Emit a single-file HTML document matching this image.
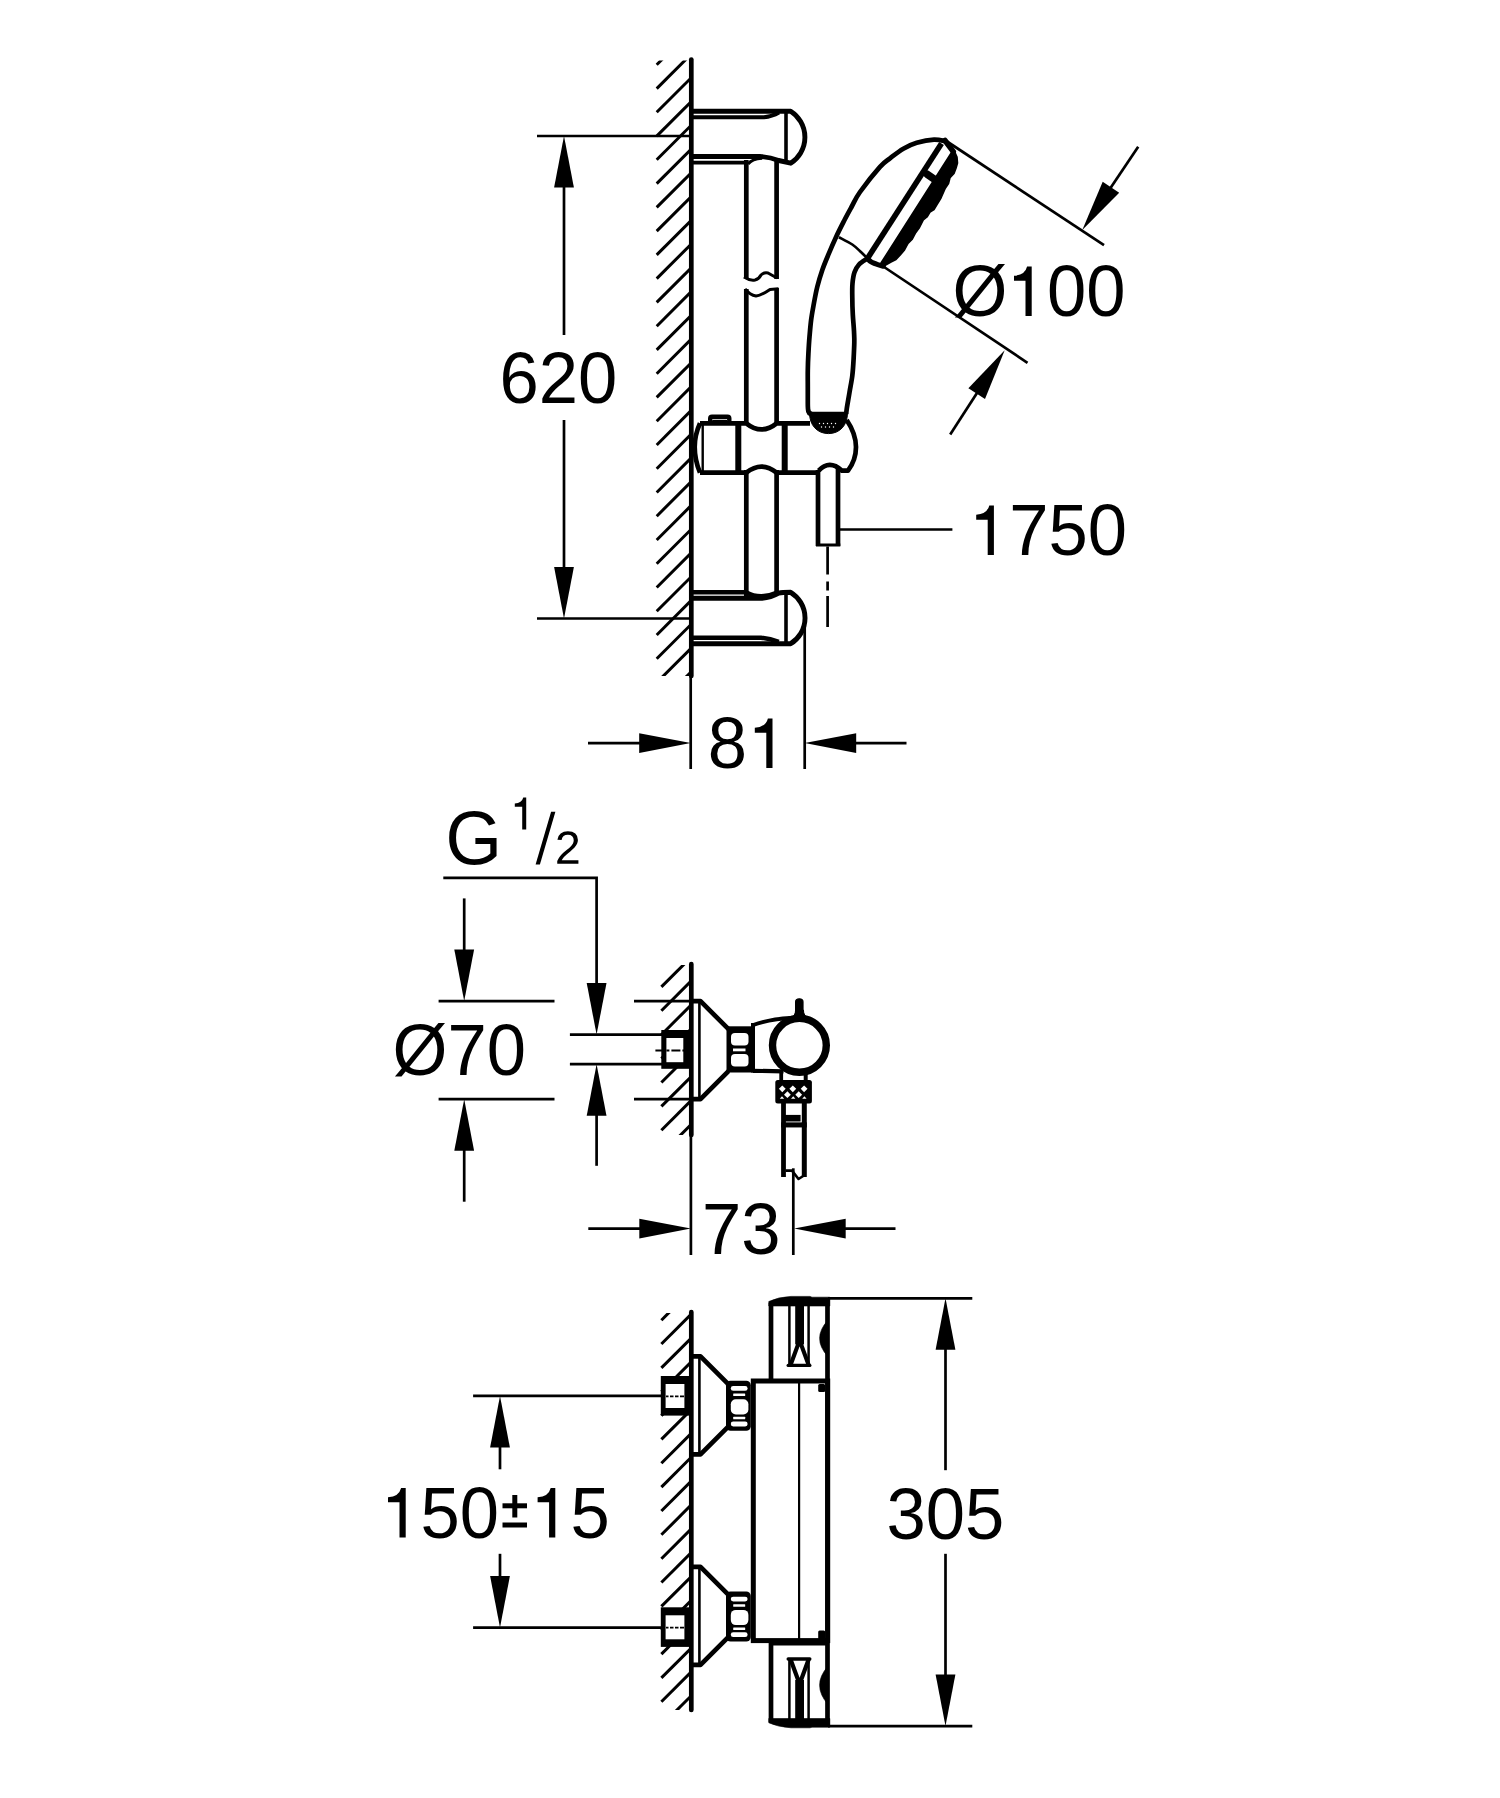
<!DOCTYPE html>
<html><head><meta charset="utf-8"><title>Dimension drawing</title>
<style>
html,body{margin:0;padding:0;background:#fff;}
svg{display:block;}
text{font-family:"Liberation Sans",sans-serif;fill:#000;stroke:none;}
</style></head>
<body>
<svg width="1500" height="1798" viewBox="0 0 1500 1798" stroke="#000" fill="none">
<rect x="0" y="0" width="1500" height="1798" fill="#fff" stroke="none"/>
<clipPath id="h1"><rect x="655.3" y="60.5" width="36.0" height="615.5"/></clipPath>
<g clip-path="url(#h1)" stroke-width="3.0" stroke-linecap="butt">
<line x1="656.7" y1="64.8" x2="691.3" y2="30.2"/>
<line x1="656.7" y1="88.6" x2="691.3" y2="54.0"/>
<line x1="656.7" y1="112.3" x2="691.3" y2="77.7"/>
<line x1="656.7" y1="136.1" x2="691.3" y2="101.5"/>
<line x1="656.7" y1="159.8" x2="691.3" y2="125.2"/>
<line x1="656.7" y1="183.6" x2="691.3" y2="149.0"/>
<line x1="656.7" y1="207.4" x2="691.3" y2="172.8"/>
<line x1="656.7" y1="231.1" x2="691.3" y2="196.5"/>
<line x1="656.7" y1="254.9" x2="691.3" y2="220.3"/>
<line x1="656.7" y1="278.6" x2="691.3" y2="244.0"/>
<line x1="656.7" y1="302.4" x2="691.3" y2="267.8"/>
<line x1="656.7" y1="326.2" x2="691.3" y2="291.6"/>
<line x1="656.7" y1="349.9" x2="691.3" y2="315.3"/>
<line x1="656.7" y1="373.7" x2="691.3" y2="339.1"/>
<line x1="656.7" y1="397.4" x2="691.3" y2="362.8"/>
<line x1="656.7" y1="421.2" x2="691.3" y2="386.6"/>
<line x1="656.7" y1="445.0" x2="691.3" y2="410.4"/>
<line x1="656.7" y1="468.7" x2="691.3" y2="434.1"/>
<line x1="656.7" y1="492.5" x2="691.3" y2="457.9"/>
<line x1="656.7" y1="516.2" x2="691.3" y2="481.6"/>
<line x1="656.7" y1="540.0" x2="691.3" y2="505.4"/>
<line x1="656.7" y1="563.8" x2="691.3" y2="529.2"/>
<line x1="656.7" y1="587.5" x2="691.3" y2="552.9"/>
<line x1="656.7" y1="611.3" x2="691.3" y2="576.7"/>
<line x1="656.7" y1="635.0" x2="691.3" y2="600.4"/>
<line x1="656.7" y1="658.8" x2="691.3" y2="624.2"/>
<line x1="656.7" y1="682.6" x2="691.3" y2="648.0"/>
<line x1="656.7" y1="706.3" x2="691.3" y2="671.7"/>
</g>
<line x1="691.3" y1="59.5" x2="691.3" y2="676.0" stroke-width="4.7" stroke-linecap="round" />
<line x1="690.7" y1="676.0" x2="690.7" y2="769.0" stroke-width="2.7" stroke-linecap="butt" />
<line x1="537.0" y1="136.0" x2="689.0" y2="136.0" stroke-width="2.7" stroke-linecap="butt" />
<line x1="537.0" y1="618.5" x2="689.0" y2="618.5" stroke-width="2.7" stroke-linecap="butt" />
<line x1="564.0" y1="186.0" x2="564.0" y2="335.0" stroke-width="2.7" stroke-linecap="butt" />
<line x1="564.0" y1="420.0" x2="564.0" y2="569.0" stroke-width="2.7" stroke-linecap="butt" />
<polygon points="564.0,136.0 573.9,187.5 554.1,187.5" fill="#000" stroke="none"/>
<polygon points="564.0,618.5 554.1,567.0 573.9,567.0" fill="#000" stroke="none"/>
<text transform="translate(499.50,402.70) scale(1,1.02)" font-size="70.6">620</text>
<path d="M692,111.3 L790.7,111.3 A30.8,30.8 0 0 1 790.7,163.2 L778.7,160.5 Q770,157 760,156.5 L692,156.5" stroke-width="4.9" fill="none" stroke-linecap="butt" stroke-linejoin="round" />
<line x1="786.0" y1="113.0" x2="786.0" y2="161.0" stroke-width="3.6" stroke-linecap="butt" />
<path d="M692,117.3 L764,117.3 Q772,116.5 779,112.5" stroke-width="4.0" fill="none" stroke-linecap="butt" stroke-linejoin="round" />
<path d="M692,162.7 L746,162.7" stroke-width="3.8" fill="none" stroke-linecap="butt" stroke-linejoin="round" />
<path d="M748,164 Q752,158.8 762,158.2" stroke-width="3" fill="none" stroke-linecap="butt" stroke-linejoin="round" />
<path d="M692,643.7 L790.7,643.7 A30.2,30.2 0 0 0 790.7,592.3 Q782,592.3 778.7,593.2 Q771,597.5 762,598.3 L692,598.3" stroke-width="4.9" fill="none" stroke-linecap="butt" stroke-linejoin="round" />
<line x1="786.0" y1="593.0" x2="786.0" y2="642.0" stroke-width="3.6" stroke-linecap="butt" />
<path d="M692,637.7 L761,637.7 Q770,638.5 778.7,642" stroke-width="4.6" fill="none" stroke-linecap="butt" stroke-linejoin="round" />
<path d="M692,592.3 L748,592.3" stroke-width="4.6" fill="none" stroke-linecap="butt" stroke-linejoin="round" />
<line x1="804.7" y1="625.0" x2="804.7" y2="769.0" stroke-width="2.7" stroke-linecap="butt" />
<line x1="746.3" y1="160.0" x2="746.3" y2="278.0" stroke-width="4.7" stroke-linecap="butt" />
<line x1="776.6" y1="158.0" x2="776.6" y2="279.0" stroke-width="4.7" stroke-linecap="butt" />
<path d="M744,277 Q750,281 755,280 Q759,279 761,275 Q764,272 768,273 L777,278" stroke-width="3" fill="none" stroke-linecap="butt" stroke-linejoin="round" />
<path d="M745,289 Q750,295 756,296 Q762,295 770,289.5 L778.5,288.7" stroke-width="3" fill="none" stroke-linecap="butt" stroke-linejoin="round" />
<line x1="746.3" y1="289.0" x2="746.3" y2="425.0" stroke-width="4.7" stroke-linecap="butt" />
<line x1="776.6" y1="288.0" x2="776.6" y2="425.0" stroke-width="4.7" stroke-linecap="butt" />
<line x1="746.3" y1="470.0" x2="746.3" y2="596.0" stroke-width="4.7" stroke-linecap="butt" />
<line x1="776.6" y1="470.0" x2="776.6" y2="594.0" stroke-width="4.7" stroke-linecap="butt" />
<path d="M746.3,592.5 Q760,600 776.6,592.8" stroke-width="4.7" fill="none" stroke-linecap="butt" stroke-linejoin="round" />
<path d="M700,423.3 L746.3,423.3 Q761.5,435.5 776.6,423.3 L810,423.3" stroke-width="4.7" fill="none" stroke-linecap="butt" stroke-linejoin="round" />
<path d="M700,423.3 Q694.7,435 694.7,447 Q694.7,460 700,472.7" stroke-width="4.7" fill="none" stroke-linecap="butt" stroke-linejoin="round" />
<path d="M700,472.7 L746.3,472.7 Q761.5,460.5 776.6,472.7 L818,472.7" stroke-width="4.7" fill="none" stroke-linecap="butt" stroke-linejoin="round" />
<line x1="702.7" y1="424.0" x2="702.7" y2="472.0" stroke-width="2.4" stroke-linecap="butt" />
<line x1="738.3" y1="423.0" x2="738.3" y2="473.0" stroke-width="6" stroke-linecap="butt" />
<line x1="784.7" y1="423.0" x2="784.7" y2="473.0" stroke-width="6" stroke-linecap="butt" />
<path d="M710.2,423 L710.2,418.5 Q710.2,416.8 712,416.8 L727.5,416.8 Q729.3,416.8 729.3,418.5 L729.3,423" stroke-width="4.4" fill="none" stroke-linecap="butt" stroke-linejoin="round" />
<path d="M713,420.5 L726.5,420.5 L726.5,423 Q720,425.5 713,423 Z" stroke-width="1.6" fill="none" stroke-linecap="butt" stroke-linejoin="round" />
<path d="M846.7,420 Q856,434 856,447 Q856,460 848,470.7 L842,470.7 Q829.3,459 818.7,470.7" stroke-width="4.7" fill="none" stroke-linecap="butt" stroke-linejoin="round" />
<line x1="818.0" y1="470.0" x2="818.0" y2="546.0" stroke-width="4.7" stroke-linecap="butt" />
<line x1="838.0" y1="468.0" x2="838.0" y2="546.0" stroke-width="4.7" stroke-linecap="butt" />
<line x1="816.0" y1="545.0" x2="840.3" y2="545.0" stroke-width="3" stroke-linecap="butt" />
<line x1="838.0" y1="529.5" x2="952.4" y2="529.5" stroke-width="2.7" stroke-linecap="butt" />
<line x1="827.6" y1="546.5" x2="827.6" y2="627" stroke-width="2.7" stroke-dasharray="28 7 9 5.5 31"/>
<path d="M946.0,141.3 C944.0,141.0 938.9,139.4 934.0,139.6 C929.1,139.8 921.8,141.2 916.7,142.7 C911.6,144.2 907.8,146.1 903.3,148.7 C898.8,151.3 893.9,155.3 890.0,158.3 C886.1,161.3 885.0,161.3 880.0,166.9 C875.0,172.5 864.8,185.3 860.0,192.0 C855.2,198.7 854.1,202.3 851.5,207.0 C848.9,211.7 847.0,215.1 844.5,220.0 C842.0,224.9 838.8,231.1 836.2,236.7 C833.6,242.3 831.2,247.8 828.9,253.4 C826.6,258.9 824.2,264.4 822.3,270.0 C820.4,275.6 818.7,281.1 817.3,286.7 C815.9,292.3 814.9,297.8 813.9,303.4 C812.9,309.0 811.8,314.5 811.1,320.1 C810.4,325.7 810.0,331.2 809.5,336.8 C809.0,342.4 808.7,347.9 808.4,353.5 C808.1,359.1 807.9,364.6 807.8,370.2 C807.7,375.8 807.8,381.3 807.8,386.9 C807.8,392.4 807.8,399.8 807.8,403.5 C807.8,407.2 808.0,408.1 808.0,409.0 Q808,414 812.5,414 L846.7,414" stroke-width="4.7" fill="none" stroke-linecap="butt" stroke-linejoin="round" />
<path d="M866.8,258.9 C865.5,259.8 861.0,262.3 859.0,264.5 C857.0,266.7 855.6,269.2 854.5,272.3 C853.4,275.4 852.9,279.1 852.5,283.4 C852.1,287.7 852.2,292.7 852.3,297.9 C852.3,303.1 852.5,308.9 852.8,314.5 C853.1,320.1 853.8,326.6 854.0,331.2 C854.2,335.8 854.4,337.8 854.3,342.4 C854.2,347.0 853.9,353.4 853.6,359.0 C853.3,364.6 853.0,370.1 852.3,375.7 C851.6,381.3 850.4,386.8 849.5,392.4 C848.6,398.0 847.2,405.5 846.7,409.1 C846.2,412.7 846.3,413.2 846.2,414.0" stroke-width="4.7" fill="none" stroke-linecap="butt" stroke-linejoin="round" />
<path d="M809.5,413 L847.5,413 C847.5,425 840,433.6 828.5,433.6 C817,433.6 809.5,425 809.5,413 Z" stroke-width="1" fill="#000" stroke-linecap="butt" stroke-linejoin="round" />
<circle cx="819.5" cy="423.5" r="0.7" fill="#fff" stroke="none"/>
<circle cx="823.5" cy="423.5" r="0.7" fill="#fff" stroke="none"/>
<circle cx="827.5" cy="423.5" r="0.7" fill="#fff" stroke="none"/>
<circle cx="831.5" cy="423.5" r="0.7" fill="#fff" stroke="none"/>
<circle cx="835.5" cy="423.5" r="0.7" fill="#fff" stroke="none"/>
<circle cx="821.5" cy="427" r="0.7" fill="#fff" stroke="none"/>
<circle cx="825.5" cy="427" r="0.7" fill="#fff" stroke="none"/>
<circle cx="829.5" cy="427" r="0.7" fill="#fff" stroke="none"/>
<circle cx="833.5" cy="427" r="0.7" fill="#fff" stroke="none"/>
<line x1="941.5" y1="143.5" x2="867.3" y2="258.7" stroke-width="5.6" stroke-linecap="butt" />
<path d="M945,140.5 L953.3,151.7" stroke-width="5.5" fill="none" stroke-linecap="round" stroke-linejoin="round" />
<path d="M867.3,258.7 Q871,263 877,264.3 L883.3,266.3" stroke-width="5" fill="none" stroke-linecap="round" stroke-linejoin="round" />
<path d="M952,151.7 L881,263 L883,266.5 L891,262 L896,259.5 L900,255.3 L904.5,250 L908,243.3 L912,239.5 L915.3,233.3 L919.5,227.5 L923.3,220 L927,217 L930,212 L934,209.5 L936.7,205 L941,198 L945.3,188.3 L948.5,183.5 L950,177.7 L954,173.5 L956,168.3 L957.5,163 L957,157 L955,152.5 Z" stroke-width="1.6" fill="#000" stroke-linecap="butt" stroke-linejoin="round" />
<path d="M927.3,174.3 L937.5,181.3" stroke-width="7.5" fill="none" stroke-linecap="round" stroke-linejoin="round" />
<path d="M838.9,237.2 C841.1,238.4 848.6,242.0 852.3,244.5 C856.0,247.0 858.6,249.9 861.2,252.3 C863.8,254.7 866.8,257.8 867.9,258.9" stroke-width="2.7" fill="none" stroke-linecap="butt" stroke-linejoin="round" />
<line x1="947.0" y1="141.5" x2="1104.0" y2="245.2" stroke-width="2.7" stroke-linecap="butt" />
<line x1="883.3" y1="266.5" x2="1027.5" y2="362.8" stroke-width="2.7" stroke-linecap="butt" />
<line x1="1138.2" y1="146.7" x2="1110.0" y2="188.8" stroke-width="2.7" stroke-linecap="butt" />
<polygon points="1082.3,230.1 1102.7,181.8 1119.2,192.8" fill="#000" stroke="none"/>
<line x1="950.2" y1="434.5" x2="977.0" y2="393.0" stroke-width="2.7" stroke-linecap="butt" />
<polygon points="1004.7,350.3 985.0,398.9 968.4,388.2" fill="#000" stroke="none"/>
<text transform="translate(952.45,316.00) scale(1,1.02)" font-size="70.6">Ø</text>
<path d="M1027.10,266.40 L1031.70,266.40 L1031.70,316.00 L1025.50,316.00 L1025.50,280.80 L1014.00,280.80 L1014.00,275.80 Q1025.00,275.00 1027.10,266.40 Z" fill="#000" stroke="none"/>
<text transform="translate(1047.00,316.00) scale(1,1.02)" font-size="70.6">00</text>
<path d="M989.30,505.40 L993.90,505.40 L993.90,555.00 L987.70,555.00 L987.70,519.80 L976.20,519.80 L976.20,514.80 Q987.20,514.00 989.30,505.40 Z" fill="#000" stroke="none"/>
<text transform="translate(1009.30,555.00) scale(1,1.02)" font-size="70.6">750</text>
<line x1="588.0" y1="743.1" x2="640.0" y2="743.1" stroke-width="2.7" stroke-linecap="butt" />
<polygon points="690.7,743.1 639.2,753.0 639.2,733.2" fill="#000" stroke="none"/>
<line x1="906.5" y1="743.1" x2="855.0" y2="743.1" stroke-width="2.7" stroke-linecap="butt" />
<polygon points="804.7,743.1 856.2,733.2 856.2,753.0" fill="#000" stroke="none"/>
<text transform="translate(707.70,768.00) scale(1,1.02)" font-size="70.6">8</text>
<path d="M767.90,718.40 L772.50,718.40 L772.50,768.00 L766.30,768.00 L766.30,732.80 L754.80,732.80 L754.80,727.80 Q765.80,727.00 767.90,718.40 Z" fill="#000" stroke="none"/>
<clipPath id="h2"><rect x="660" y="965" width="31.299999999999955" height="170"/></clipPath>
<g clip-path="url(#h2)" stroke-width="3.0" stroke-linecap="butt">
<line x1="661.4" y1="963.0" x2="691.3" y2="933.1"/>
<line x1="661.4" y1="986.9" x2="691.3" y2="957.0"/>
<line x1="661.4" y1="1010.8" x2="691.3" y2="980.9"/>
<line x1="661.4" y1="1034.7" x2="691.3" y2="1004.8"/>
<line x1="661.4" y1="1058.6" x2="691.3" y2="1028.7"/>
<line x1="661.4" y1="1082.5" x2="691.3" y2="1052.6"/>
<line x1="661.4" y1="1106.4" x2="691.3" y2="1076.5"/>
<line x1="661.4" y1="1130.3" x2="691.3" y2="1100.4"/>
<line x1="661.4" y1="1154.2" x2="691.3" y2="1124.3"/>
</g>
<line x1="691.3" y1="964.0" x2="691.3" y2="1135.0" stroke-width="4.7" stroke-linecap="round" />
<line x1="690.9" y1="1135.0" x2="690.9" y2="1255.0" stroke-width="2.7" stroke-linecap="butt" />
<text transform="translate(445.50,864.30) scale(1,1.05)" font-size="72.6">G</text>
<path d="M523.25,797.41 L526.22,797.41 L526.22,829.40 L522.22,829.40 L522.22,806.70 L514.80,806.70 L514.80,803.47 Q521.89,802.96 523.25,797.41 Z" fill="#000" stroke="none"/>
<polygon points="535.6,864.6 539.9,864.6 555.4,811.8 551.1,811.8" fill="#000" stroke="none"/>
<path d="M557.24 863.80V860.92Q558.40 858.26 560.07 856.23Q561.73 854.20 563.57 852.55Q565.41 850.90 567.22 849.50Q569.02 848.09 570.48 846.68Q571.93 845.27 572.83 843.73Q573.72 842.18 573.72 840.23Q573.72 837.60 572.18 836.15Q570.63 834.69 567.89 834.69Q565.28 834.69 563.58 836.11Q561.89 837.53 561.60 840.10L557.42 839.71Q557.87 835.87 560.68 833.60Q563.48 831.33 567.89 831.33Q572.72 831.33 575.32 833.61Q577.92 835.90 577.92 840.10Q577.92 841.96 577.07 843.80Q576.22 845.64 574.54 847.48Q572.86 849.31 568.11 853.17Q565.50 855.31 563.96 857.02Q562.42 858.74 561.73 860.33H578.42V863.80Z" fill="#000" stroke="none"/>
<path d="M443.3,877.9 L596.6,877.9 L596.6,985" stroke-width="2.7" fill="none" stroke-linecap="butt" stroke-linejoin="miter" />
<polygon points="596.6,1034.5 586.7,983.0 606.5,983.0" fill="#000" stroke="none"/>
<line x1="569.9" y1="1034.7" x2="662.0" y2="1034.7" stroke-width="2.7" stroke-linecap="butt" />
<line x1="569.9" y1="1064.2" x2="662.0" y2="1064.2" stroke-width="2.7" stroke-linecap="butt" />
<polygon points="596.6,1064.2 606.5,1115.7 586.7,1115.7" fill="#000" stroke="none"/>
<line x1="596.6" y1="1114.0" x2="596.6" y2="1165.8" stroke-width="2.7" stroke-linecap="butt" />
<line x1="438.6" y1="1001.1" x2="554.5" y2="1001.1" stroke-width="2.7" stroke-linecap="butt" />
<line x1="438.6" y1="1099.2" x2="554.5" y2="1099.2" stroke-width="2.7" stroke-linecap="butt" />
<line x1="634.0" y1="1001.1" x2="693.0" y2="1001.1" stroke-width="2.7" stroke-linecap="butt" />
<line x1="634.0" y1="1099.2" x2="693.0" y2="1099.2" stroke-width="2.7" stroke-linecap="butt" />
<line x1="464.2" y1="898.4" x2="464.2" y2="951.0" stroke-width="2.7" stroke-linecap="butt" />
<polygon points="464.2,1001.1 454.3,949.6 474.1,949.6" fill="#000" stroke="none"/>
<line x1="464.2" y1="1201.7" x2="464.2" y2="1149.0" stroke-width="2.7" stroke-linecap="butt" />
<polygon points="464.2,1099.2 474.1,1150.7 454.3,1150.7" fill="#000" stroke="none"/>
<text transform="translate(392.55,1075.00) scale(1,1.02)" font-size="70.6">Ø70</text>
<rect x="661.3" y="1030" width="28.5" height="38.8" fill="#000" stroke="none"/>
<rect x="666.4" y="1038" width="16.9" height="24.2" fill="#fff" stroke="none"/>
<line x1="655.4" y1="1050.5" x2="688" y2="1050.5" stroke-width="1.8" stroke-dasharray="9 2 3 2"/>
<path d="M693,1001.1500000000001 L700.5,1001.1500000000001 L728.5,1029.15 M693,1099.15 L700.5,1099.15 L728.5,1071.15" stroke-width="4.7" fill="none" stroke-linecap="butt" stroke-linejoin="round" />
<line x1="699.4" y1="1001.2" x2="699.4" y2="1099.2" stroke-width="2.6" stroke-linecap="butt" />
<rect x="726.5" y="1026.3" width="28" height="46.2" fill="#000" stroke="none"/>
<rect x="731" y="1033" width="17.5" height="12.5" rx="4" fill="#fff" stroke="none"/>
<rect x="731" y="1054" width="17.5" height="12.5" rx="4" fill="#fff" stroke="none"/>
<rect x="733" y="1048.5" width="12.5" height="2.8" fill="#fff" stroke="none"/>
<path d="M752.5,1025.3 Q770,1018.6 794,1017.7" stroke-width="3.9" fill="none" stroke-linecap="butt" stroke-linejoin="round" />
<path d="M753,1070.8 L783.5,1071.3" stroke-width="4.2" fill="none" stroke-linecap="butt" stroke-linejoin="round" />
<line x1="753.0" y1="1023.0" x2="753.0" y2="1072.5" stroke-width="4" stroke-linecap="butt" />
<circle cx="799.4" cy="1045.3" r="26.9" stroke-width="7.4" fill="#fff"/>
<path d="M795.6,1019 L795.6,1001.8 Q795.6,998.8 799.3,998.8 Q803,998.8 803,1001.8 L803,1019 Z" stroke-width="1.2" fill="#000" stroke-linecap="butt" stroke-linejoin="round" />
<path d="M790.5,1018 Q795.5,1016 795.6,1010 L803.4,1010 Q803.5,1016 808.5,1018 Z" stroke-width="1" fill="#000" stroke-linecap="butt" stroke-linejoin="round" />
<line x1="781.2" y1="1072.0" x2="781.2" y2="1081.0" stroke-width="3.8" stroke-linecap="butt" />
<line x1="805.7" y1="1072.0" x2="805.7" y2="1081.0" stroke-width="4" stroke-linecap="butt" />
<rect x="775.3" y="1079.9" width="36.6" height="23.7" rx="2.5" fill="#000" stroke="none"/>
<path d="M782.3,1085.4 L785.7,1088.8 L782.3,1092.2 L778.9,1088.8 Z" fill="#fff" stroke="none"/>
<path d="M792.8,1085.4 L796.2,1088.8 L792.8,1092.2 L789.4,1088.8 Z" fill="#fff" stroke="none"/>
<path d="M804.1,1085.4 L807.5,1088.8 L804.1,1092.2 L800.7,1088.8 Z" fill="#fff" stroke="none"/>
<path d="M787.4,1091.3 L790.8,1094.7 L787.4,1098.1 L784.0,1094.7 Z" fill="#fff" stroke="none"/>
<path d="M798.7,1091.3 L802.1,1094.7 L798.7,1098.1 L795.3,1094.7 Z" fill="#fff" stroke="none"/>
<path d="M782.0,1096.3 L784.2,1098.8 L779.8,1098.8 Z" fill="#fff" stroke="none"/>
<path d="M793.2,1096.3 L795.4,1098.8 L791.0,1098.8 Z" fill="#fff" stroke="none"/>
<path d="M804.4,1096.3 L806.6,1098.8 L802.2,1098.8 Z" fill="#fff" stroke="none"/>
<line x1="783.5" y1="1103.0" x2="783.5" y2="1177.0" stroke-width="4.8" stroke-linecap="butt" />
<line x1="804.3" y1="1103.0" x2="804.3" y2="1177.0" stroke-width="5" stroke-linecap="butt" />
<rect x="784.7" y="1114.9" width="15.9" height="6.6" fill="#000" stroke="none"/>
<line x1="781.2" y1="1124.9" x2="806.8" y2="1124.9" stroke-width="5.1" stroke-linecap="butt" />
<path d="M785.5,1170.6 L792,1170.6 L798.5,1179 L804,1175.5" stroke-width="2.6" fill="none" stroke-linecap="butt" stroke-linejoin="round" />
<line x1="793.3" y1="1168.3" x2="793.3" y2="1255.0" stroke-width="2.7" stroke-linecap="butt" />
<line x1="588.3" y1="1228.6" x2="641.0" y2="1228.6" stroke-width="2.7" stroke-linecap="butt" />
<polygon points="690.8,1228.6 639.3,1238.5 639.3,1218.7" fill="#000" stroke="none"/>
<line x1="895.5" y1="1228.6" x2="845.0" y2="1228.6" stroke-width="2.7" stroke-linecap="butt" />
<polygon points="794.2,1228.6 845.7,1218.7 845.7,1238.5" fill="#000" stroke="none"/>
<text transform="translate(701.90,1253.50) scale(1,1.02)" font-size="70.6">73</text>
<clipPath id="h3"><rect x="660" y="1313" width="31.299999999999955" height="397"/></clipPath>
<g clip-path="url(#h3)" stroke-width="3.0" stroke-linecap="butt">
<line x1="661.4" y1="1320.2" x2="691.3" y2="1290.3"/>
<line x1="661.4" y1="1344.0" x2="691.3" y2="1314.1"/>
<line x1="661.4" y1="1367.9" x2="691.3" y2="1338.0"/>
<line x1="661.4" y1="1391.7" x2="691.3" y2="1361.8"/>
<line x1="661.4" y1="1415.6" x2="691.3" y2="1385.7"/>
<line x1="661.4" y1="1439.4" x2="691.3" y2="1409.5"/>
<line x1="661.4" y1="1463.3" x2="691.3" y2="1433.4"/>
<line x1="661.4" y1="1487.1" x2="691.3" y2="1457.2"/>
<line x1="661.4" y1="1511.0" x2="691.3" y2="1481.1"/>
<line x1="661.4" y1="1534.8" x2="691.3" y2="1504.9"/>
<line x1="661.4" y1="1558.7" x2="691.3" y2="1528.8"/>
<line x1="661.4" y1="1582.5" x2="691.3" y2="1552.6"/>
<line x1="661.4" y1="1606.4" x2="691.3" y2="1576.5"/>
<line x1="661.4" y1="1630.2" x2="691.3" y2="1600.3"/>
<line x1="661.4" y1="1654.1" x2="691.3" y2="1624.2"/>
<line x1="661.4" y1="1677.9" x2="691.3" y2="1648.0"/>
<line x1="661.4" y1="1701.8" x2="691.3" y2="1671.9"/>
<line x1="661.4" y1="1725.6" x2="691.3" y2="1695.7"/>
</g>
<line x1="691.3" y1="1312.0" x2="691.3" y2="1710.0" stroke-width="4.7" stroke-linecap="round" />
<line x1="473.1" y1="1395.9" x2="662.0" y2="1395.9" stroke-width="2.7" stroke-linecap="butt" />
<line x1="473.1" y1="1627.6" x2="662.0" y2="1627.6" stroke-width="2.7" stroke-linecap="butt" />
<polygon points="500.0,1395.9 509.9,1447.4 490.1,1447.4" fill="#000" stroke="none"/>
<line x1="500.0" y1="1446.0" x2="500.0" y2="1469.3" stroke-width="2.7" stroke-linecap="butt" />
<polygon points="500.0,1627.6 490.1,1576.1 509.9,1576.1" fill="#000" stroke="none"/>
<line x1="500.0" y1="1553.8" x2="500.0" y2="1577.0" stroke-width="2.7" stroke-linecap="butt" />
<path d="M401.10,1487.90 L405.70,1487.90 L405.70,1537.50 L399.50,1537.50 L399.50,1502.30 L388.00,1502.30 L388.00,1497.30 Q399.00,1496.50 401.10,1487.90 Z" fill="#000" stroke="none"/>
<text transform="translate(420.60,1537.50) scale(1,1.02)" font-size="70.6">50</text>
<line x1="502.5" y1="1505.8" x2="527.0" y2="1505.8" stroke-width="5" stroke-linecap="butt" />
<line x1="514.8" y1="1495.0" x2="514.8" y2="1517.5" stroke-width="5" stroke-linecap="butt" />
<line x1="502.5" y1="1525.0" x2="527.0" y2="1525.0" stroke-width="5" stroke-linecap="butt" />
<path d="M550.70,1487.90 L555.30,1487.90 L555.30,1537.50 L549.10,1537.50 L549.10,1502.30 L537.60,1502.30 L537.60,1497.30 Q548.60,1496.50 550.70,1487.90 Z" fill="#000" stroke="none"/>
<text transform="translate(570.50,1537.50) scale(1,1.02)" font-size="70.6">5</text>
<rect x="660.8" y="1376.0" width="29" height="39.6" fill="#000" stroke="none"/>
<rect x="665.6" y="1384.0" width="18.8" height="24" fill="#fff" stroke="none"/>
<line x1="666" y1="1396.4" x2="684" y2="1396.4" stroke-width="1.8" stroke-dasharray="2.5 1.5 3.5 1.5 3.5 1.5 6"/>
<rect x="660.8" y="1607.3" width="29" height="39.6" fill="#000" stroke="none"/>
<rect x="665.6" y="1615.3" width="18.8" height="24" fill="#fff" stroke="none"/>
<line x1="666" y1="1627.7" x2="684" y2="1627.7" stroke-width="1.8" stroke-dasharray="2.5 1.5 3.5 1.5 3.5 1.5 6"/>
<path d="M693,1356.4 L700.5,1356.4 L728.5,1384.4 M693,1454.4 L700.5,1454.4 L728.5,1426.4" stroke-width="4.7" fill="none" stroke-linecap="butt" stroke-linejoin="round" />
<line x1="699.4" y1="1356.4" x2="699.4" y2="1454.4" stroke-width="2.6" stroke-linecap="butt" />
<path d="M693,1566.8 L700.5,1566.8 L728.5,1594.8 M693,1664.8 L700.5,1664.8 L728.5,1636.8" stroke-width="4.7" fill="none" stroke-linecap="butt" stroke-linejoin="round" />
<line x1="699.4" y1="1566.8" x2="699.4" y2="1664.8" stroke-width="2.6" stroke-linecap="butt" />
<rect x="726" y="1380.8" width="24.8" height="50" rx="4.5" fill="#000" stroke="none"/>
<rect x="730.8" y="1386.0" width="16.8" height="4.8" rx="2.4" fill="#fff" stroke="none"/>
<rect x="733.2" y="1393.6" width="12.0" height="2.4" rx="0.5" fill="#fff" stroke="none"/>
<rect x="730.8" y="1399.2" width="17.6" height="15.2" rx="5" fill="#fff" stroke="none"/>
<rect x="733.2" y="1416.8" width="12.0" height="2.4" rx="0.5" fill="#fff" stroke="none"/>
<rect x="730.8" y="1421.6" width="16.8" height="4.8" rx="2.4" fill="#fff" stroke="none"/>
<rect x="726" y="1591.5" width="24.8" height="50" rx="4.5" fill="#000" stroke="none"/>
<rect x="730.8" y="1596.7" width="16.8" height="4.8" rx="2.4" fill="#fff" stroke="none"/>
<rect x="733.2" y="1604.3" width="12.0" height="2.4" rx="0.5" fill="#fff" stroke="none"/>
<rect x="730.8" y="1609.9" width="17.6" height="15.2" rx="5" fill="#fff" stroke="none"/>
<rect x="733.2" y="1627.5" width="12.0" height="2.4" rx="0.5" fill="#fff" stroke="none"/>
<rect x="730.8" y="1632.3" width="16.8" height="4.8" rx="2.4" fill="#fff" stroke="none"/>
<rect x="753.3" y="1381" width="74.4" height="259.6" stroke-width="5" fill="#fff"/>
<line x1="799.1" y1="1383.0" x2="799.1" y2="1639.0" stroke-width="2.2" stroke-linecap="butt" />
<rect x="818.2" y="1384" width="7" height="8" rx="1.5" fill="#000" stroke="none"/>
<rect x="818.2" y="1630.6" width="7" height="8.6" rx="1.5" fill="#000" stroke="none"/>
<path d="M771,1381 L771,1303 M827.5,1298 L827.5,1726 M771,1640.6 L771,1722" stroke-width="4.7" fill="none" stroke-linecap="butt" stroke-linejoin="round" />
<path d="M768.8,1306 L768.8,1301.5 Q778,1297 791,1296.4 L810,1296.4 L812,1297.2 L829.8,1297.2 L829.8,1306 Z" stroke-width="0.6" fill="#000" stroke-linecap="butt" stroke-linejoin="round" />
<path d="M768.8,1718.5 L768.8,1722.8 Q778,1727 791,1727.8 L810,1727.8 L812,1727.2 L829.8,1727.2 L829.8,1718.5 Z" stroke-width="0.6" fill="#000" stroke-linecap="butt" stroke-linejoin="round" />
<line x1="789.4" y1="1305.0" x2="789.4" y2="1365.4" stroke-width="2.5" stroke-linecap="butt" />
<line x1="808.6" y1="1305.0" x2="808.6" y2="1365.4" stroke-width="2.5" stroke-linecap="butt" />
<line x1="788.2" y1="1365.4" x2="809.8" y2="1365.4" stroke-width="3.4" stroke-linecap="round" />
<line x1="799.6" y1="1305.0" x2="799.6" y2="1344.4" stroke-width="8.8" stroke-linecap="butt" />
<path d="M799.6,1340.4 L790.6,1364.9 M799.6,1340.4 L808.6,1364.9" stroke-width="4.2" fill="none" stroke-linecap="butt" stroke-linejoin="round" />
<line x1="789.4" y1="1720.0" x2="789.4" y2="1659.0" stroke-width="2.5" stroke-linecap="butt" />
<line x1="808.6" y1="1720.0" x2="808.6" y2="1659.0" stroke-width="2.5" stroke-linecap="butt" />
<line x1="788.2" y1="1659.0" x2="809.8" y2="1659.0" stroke-width="3.4" stroke-linecap="round" />
<line x1="799.6" y1="1720.0" x2="799.6" y2="1680.0" stroke-width="8.8" stroke-linecap="butt" />
<path d="M799.6,1684 L790.6,1659.5 M799.6,1684 L808.6,1659.5" stroke-width="4.2" fill="none" stroke-linecap="butt" stroke-linejoin="round" />
<path d="M827.7,1320.5 Q811.5,1338.4 827.7,1356.3 Z" stroke-width="0.6" fill="#000" stroke-linecap="butt" stroke-linejoin="round" />
<path d="M827.7,1666.5 Q811.5,1685.2 827.7,1704 Z" stroke-width="0.6" fill="#000" stroke-linecap="butt" stroke-linejoin="round" />
<line x1="771.0" y1="1643.8" x2="827.5" y2="1643.8" stroke-width="3.6" stroke-linecap="butt" />
<line x1="828.0" y1="1298.3" x2="972.3" y2="1298.3" stroke-width="2.7" stroke-linecap="butt" />
<line x1="828.0" y1="1726.1" x2="972.3" y2="1726.1" stroke-width="2.7" stroke-linecap="butt" />
<polygon points="945.5,1298.3 955.4,1349.8 935.6,1349.8" fill="#000" stroke="none"/>
<line x1="945.5" y1="1348.0" x2="945.5" y2="1470.2" stroke-width="2.7" stroke-linecap="butt" />
<polygon points="945.5,1726.1 935.6,1674.6 955.4,1674.6" fill="#000" stroke="none"/>
<line x1="945.5" y1="1553.8" x2="945.5" y2="1676.0" stroke-width="2.7" stroke-linecap="butt" />
<text transform="translate(886.50,1538.50) scale(1,1.02)" font-size="70.6">305</text>
</svg>
</body></html>
